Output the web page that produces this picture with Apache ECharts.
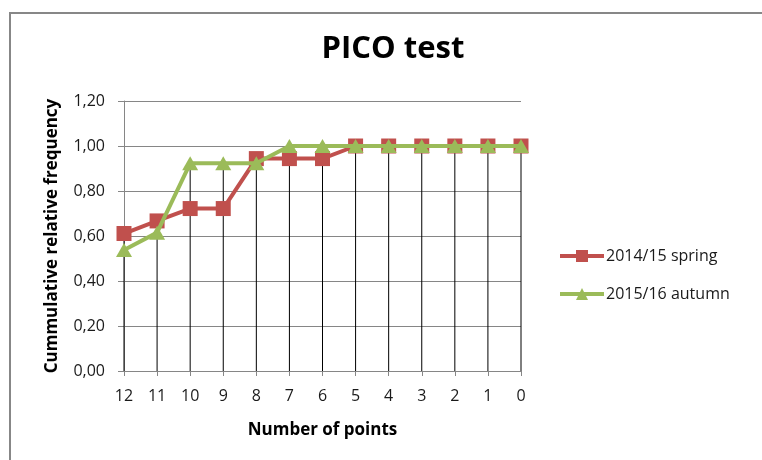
<!DOCTYPE html>
<html>
<head>
<meta charset="utf-8">
<script src="https://cdn.jsdelivr.net/npm/echarts@6/dist/echarts.min.js"></script>
<style>html,body{margin:0;padding:0;background:#fff;}#c{width:762px;height:460px;}</style>
</head>
<body>
<div id="c"></div>
<script>
var categories = ['12','11','10','9','8','7','6','5','4','3','2','1','0'];
var spring = [0.611, 0.667, 0.722, 0.722, 0.944, 0.944, 0.944, 1, 1, 1, 1, 1, 1];
var autumn = [0.538, 0.615, 0.923, 0.923, 0.923, 1, 1, 1, 1, 1, 1, 1, 1];
var yTicks = [0, 0.2, 0.4, 0.6, 0.8, 1.0, 1.2];
var seriesNames = ['2014/15 spring', '2015/16 autumn'];

var dropTops = categories.map(function (c, i) { return [i, Math.max(spring[i], autumn[i])]; });
var FONT = '"Open Sans", sans-serif';

var chart = echarts.init(document.getElementById('c'), null, {renderer: 'canvas'});
chart.setOption({
  animation: false,
  backgroundColor: '#fff',
  title: {
    text: 'PICO test', left: 388, top: 29, textAlign: 'center',
    textStyle: {fontFamily: FONT, fontWeight: 'bold', fontSize: 31, color: '#000'}
  },
  graphic: [{
    type: 'polyline', silent: true,
    shape: {points: [[10, 460], [10, 13], [762, 13]]},
    style: {stroke: '#878787', lineWidth: 2, fill: null}
  }],
  legend: {
    orient: 'vertical', left: 553, top: 243, itemWidth: 44, itemHeight: 15, itemGap: 22,
    data: seriesNames,
    lineStyle: {width: 4},
    textStyle: {fontFamily: FONT, fontSize: 16, color: '#1a1a1a', padding: [0,0,0,-3]}
  },
  grid: {left: 124, right: 241, top: 101, bottom: 89, containLabel: false},
  xAxis: {
    type: 'category', data: categories, boundaryGap: false,
    name: 'Number of points', nameLocation: 'middle', nameGap: 51,
    nameTextStyle: {fontFamily: FONT, fontWeight: 'bold', fontSize: 17, color: '#000'},
    axisLine: {lineStyle: {color: '#868686', width: 1}},
    axisTick: {show: true, length: 5, lineStyle: {color: '#868686'}},
    axisLabel: {fontFamily: FONT, fontSize: 16, color: '#1a1a1a', margin: 17},
    splitLine: {show: false}
  },
  yAxis: {
    type: 'value', min: 0, max: 1.2, interval: 0.2,
    name: 'Cummulative relative frequency', nameLocation: 'middle', nameGap: 63,
    nameTextStyle: {fontFamily: FONT, fontWeight: 'bold', fontSize: 17, color: '#000'},
    axisLine: {show: true, lineStyle: {color: '#868686', width: 1}},
    axisTick: {show: true, length: 6, inside: false, lineStyle: {color: '#868686'}},
    axisLabel: {fontFamily: FONT, fontSize: 16, color: '#1a1a1a', margin: 19,
      formatter: function (v) { return v.toFixed(2).replace('.', ','); }},
    splitLine: {show: true, lineStyle: {color: '#868686', width: 1}}
  },
  series: [
    {
      type: 'custom', silent: true, z: 1,
      data: dropTops,
      renderItem: function (params, api) {
        var top = api.coord([api.value(0), api.value(1)]);
        var bot = api.coord([api.value(0), 0]);
        return {type: 'line', shape: {x1: top[0], y1: top[1], x2: bot[0], y2: bot[1]},
          style: {stroke: '#000', lineWidth: 1}};
      }
    },
    {
      name: seriesNames[0], type: 'line', data: spring, z: 3,
      symbol: 'rect', symbolSize: 15,
      itemStyle: {color: '#C0504D'},
      lineStyle: {color: '#C0504D', width: 4}
    },
    {
      name: seriesNames[1], type: 'line', data: autumn, z: 4,
      symbol: 'triangle', symbolSize: [16, 14],
      itemStyle: {color: '#9BBB59'},
      lineStyle: {color: '#9BBB59', width: 4}
    }
  ]
});
</script>
</body>
</html>
